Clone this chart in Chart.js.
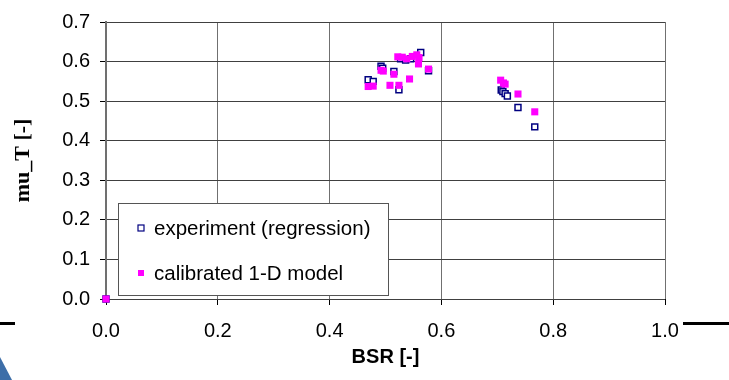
<!DOCTYPE html>
<html>
<head>
<meta charset="utf-8">
<title>mu_T vs BSR</title>
<script src="https://cdn.jsdelivr.net/npm/chart.js@4.4.1/dist/chart.umd.min.js"></script>
<style>
    html, body { margin: 0; padding: 0; background: #ffffff; }
    #wrap { width: 729px; height: 380px; }
</style>
</head>
<body>
<div id="wrap"><canvas id="muChart" width="729" height="380"></canvas></div>
<script>
(function () {
    'use strict';

    // Series values
    const expBSR = [0, 0.469, 0.478, 0.492, 0.495, 0.515, 0.524, 0.527, 0.536, 0.545, 0.563, 0.577,
        0.707, 0.710, 0.714, 0.718, 0.737, 0.767];
    const expMu = [0, 0.554, 0.550, 0.588, 0.583, 0.575, 0.529, 0.607, 0.604, 0.607, 0.623, 0.577,
        0.528, 0.524, 0.519, 0.513, 0.484, 0.435];

    const modelBSR = [0, 0.469, 0.478, 0.492, 0.496, 0.515, 0.508, 0.524, 0.522, 0.530, 0.538, 0.548,
        0.556, 0.560, 0.559, 0.577, 0.543, 0.706, 0.711, 0.714, 0.737, 0.767];
    const modelMu = [0, 0.537, 0.538, 0.578, 0.576, 0.568, 0.540, 0.540, 0.612, 0.611, 0.607, 0.613,
        0.617, 0.610, 0.594, 0.581, 0.556, 0.553, 0.546, 0.543, 0.518, 0.473];

    const seriesLabels = ['experiment (regression)', 'calibrated 1-D model'];

    // Tick labels
    const xTicks = [0.0, 0.2, 0.4, 0.6, 0.8, 1.0];
    const yTicks = [0.0, 0.1, 0.2, 0.3, 0.4, 0.5, 0.6, 0.7];

    const NAVY = '#000080';
    const MAGENTA = '#ff00ff';
    const FONT = '"Liberation Sans", Arial, sans-serif';

    function toPoints(xs, ys) {
        return xs.map((x, i) => ({ x: x, y: ys[i] }));
    }

    // Legend box drawn inside the plot area (Excel style)
    const insideLegend = {
        id: 'insideLegend',
        afterDraw(chart) {
            const ctx = chart.ctx;
            const area = chart.chartArea;
            const boxX = area.left + 12;
            const boxY = area.bottom - 96;
            const boxW = 270;
            const boxH = 92;

            ctx.save();
            ctx.fillStyle = '#ffffff';
            ctx.fillRect(boxX, boxY, boxW, boxH);
            ctx.strokeStyle = '#555555';
            ctx.lineWidth = 1;
            ctx.strokeRect(boxX + 0.5, boxY + 0.5, boxW, boxH);

            ctx.font = '20.5px ' + FONT;
            ctx.fillStyle = '#000000';
            ctx.textBaseline = 'middle';
            ctx.textAlign = 'left';

            chart.data.datasets.forEach((ds, i) => {
                const cy = boxY + 25 + i * 45;
                const mx = boxX + 23;
                if (ds.backgroundColor === MAGENTA) {
                    ctx.fillStyle = MAGENTA;
                    ctx.fillRect(mx - 3, cy - 3, 6, 6);
                } else {
                    ctx.strokeStyle = NAVY;
                    ctx.lineWidth = 1.2;
                    ctx.fillStyle = '#ffffff';
                    ctx.fillRect(mx - 3, cy - 3, 6, 6);
                    ctx.strokeRect(mx - 3, cy - 3, 6, 6);
                }
                ctx.fillStyle = '#000000';
                ctx.fillText(ds.label, boxX + 36, cy + 1);
            });
            ctx.restore();
        }
    };

    // Leftover slide decorations around the chart
    const slideBits = {
        id: 'slideBits',
        afterDraw(chart) {
            const ctx = chart.ctx;
            ctx.save();
            ctx.fillStyle = '#000000';
            ctx.fillRect(0, 322, 15, 3);
            ctx.fillRect(683, 322, 46, 3);
            ctx.fillStyle = '#3d6ea8';
            ctx.beginPath();
            ctx.moveTo(0, 357);
            ctx.lineTo(12, 380);
            ctx.lineTo(0, 380);
            ctx.closePath();
            ctx.fill();
            ctx.restore();
        }
    };

    function init() {
        const canvas = document.getElementById('muChart');
        if (!canvas) {
            return;
        }

        new Chart(canvas.getContext('2d'), {
            type: 'scatter',
            data: {
                datasets: [{
                    label: seriesLabels[0],
                    data: toPoints(expBSR, expMu),
                    pointStyle: 'rect',
                    pointRadius: 4.2,
                    pointHoverRadius: 4.2,
                    borderWidth: 1.5,
                    borderColor: NAVY,
                    backgroundColor: '#ffffff',
                    clip: false,
                    order: 2
                }, {
                    label: seriesLabels[1],
                    data: toPoints(modelBSR, modelMu),
                    pointStyle: 'rect',
                    pointRadius: 5,
                    pointHoverRadius: 5,
                    borderWidth: 0,
                    borderColor: MAGENTA,
                    backgroundColor: MAGENTA,
                    clip: false,
                    order: 1
                }]
            },
            options: {
                responsive: false,
                animation: false,
                layout: {
                    padding: { left: 0, top: 20, right: 64, bottom: 0 }
                },
                plugins: {
                    legend: { display: false },
                    tooltip: { enabled: false }
                },
                scales: {
                    x: {
                        type: 'linear',
                        min: 0,
                        max: 1,
                        afterFit: function (scale) {
                            scale.height = 81;
                        },
                        afterBuildTicks: function (scale) {
                            scale.ticks = xTicks.map(v => ({ value: v }));
                        },
                        grid: {
                            color: '#707070',
                            lineWidth: 1,
                            tickColor: '#000000',
                            tickLength: 6
                        },
                        border: { display: false },
                        ticks: {
                            color: '#000000',
                            padding: 14,
                            font: { size: 20, family: FONT },
                            callback: v => v.toFixed(1)
                        },
                        title: {
                            display: true,
                            text: 'BSR [-]',
                            color: '#000000',
                            font: { size: 20, weight: 'bold', family: FONT },
                            padding: { top: 0, bottom: 11 }
                        }
                    },
                    y: {
                        type: 'linear',
                        min: 0,
                        max: 0.7,
                        afterFit: function (scale) {
                            scale.width = 106;
                        },
                        afterBuildTicks: function (scale) {
                            scale.ticks = yTicks.map(v => ({ value: v }));
                        },
                        grid: {
                            color: '#404040',
                            lineWidth: 1,
                            tickColor: '#000000',
                            tickLength: 6
                        },
                        border: { display: true, color: '#707070', width: 2 },
                        ticks: {
                            color: '#000000',
                            padding: 10,
                            font: { size: 20, family: FONT },
                            callback: v => v.toFixed(1)
                        },
                        title: {
                            display: true,
                            text: 'mu_T [-]',
                            color: '#000000',
                            font: { size: 22, weight: 'bold', family: '"Liberation Serif", "Times New Roman", serif' },
                            padding: { top: 10, bottom: 0 }
                        }
                    }
                }
            },
            plugins: [insideLegend, slideBits]
        });
    }

    if (document.readyState === 'loading') {
        document.addEventListener('DOMContentLoaded', init);
    } else {
        init();
    }
})();
</script>
</body>
</html>
